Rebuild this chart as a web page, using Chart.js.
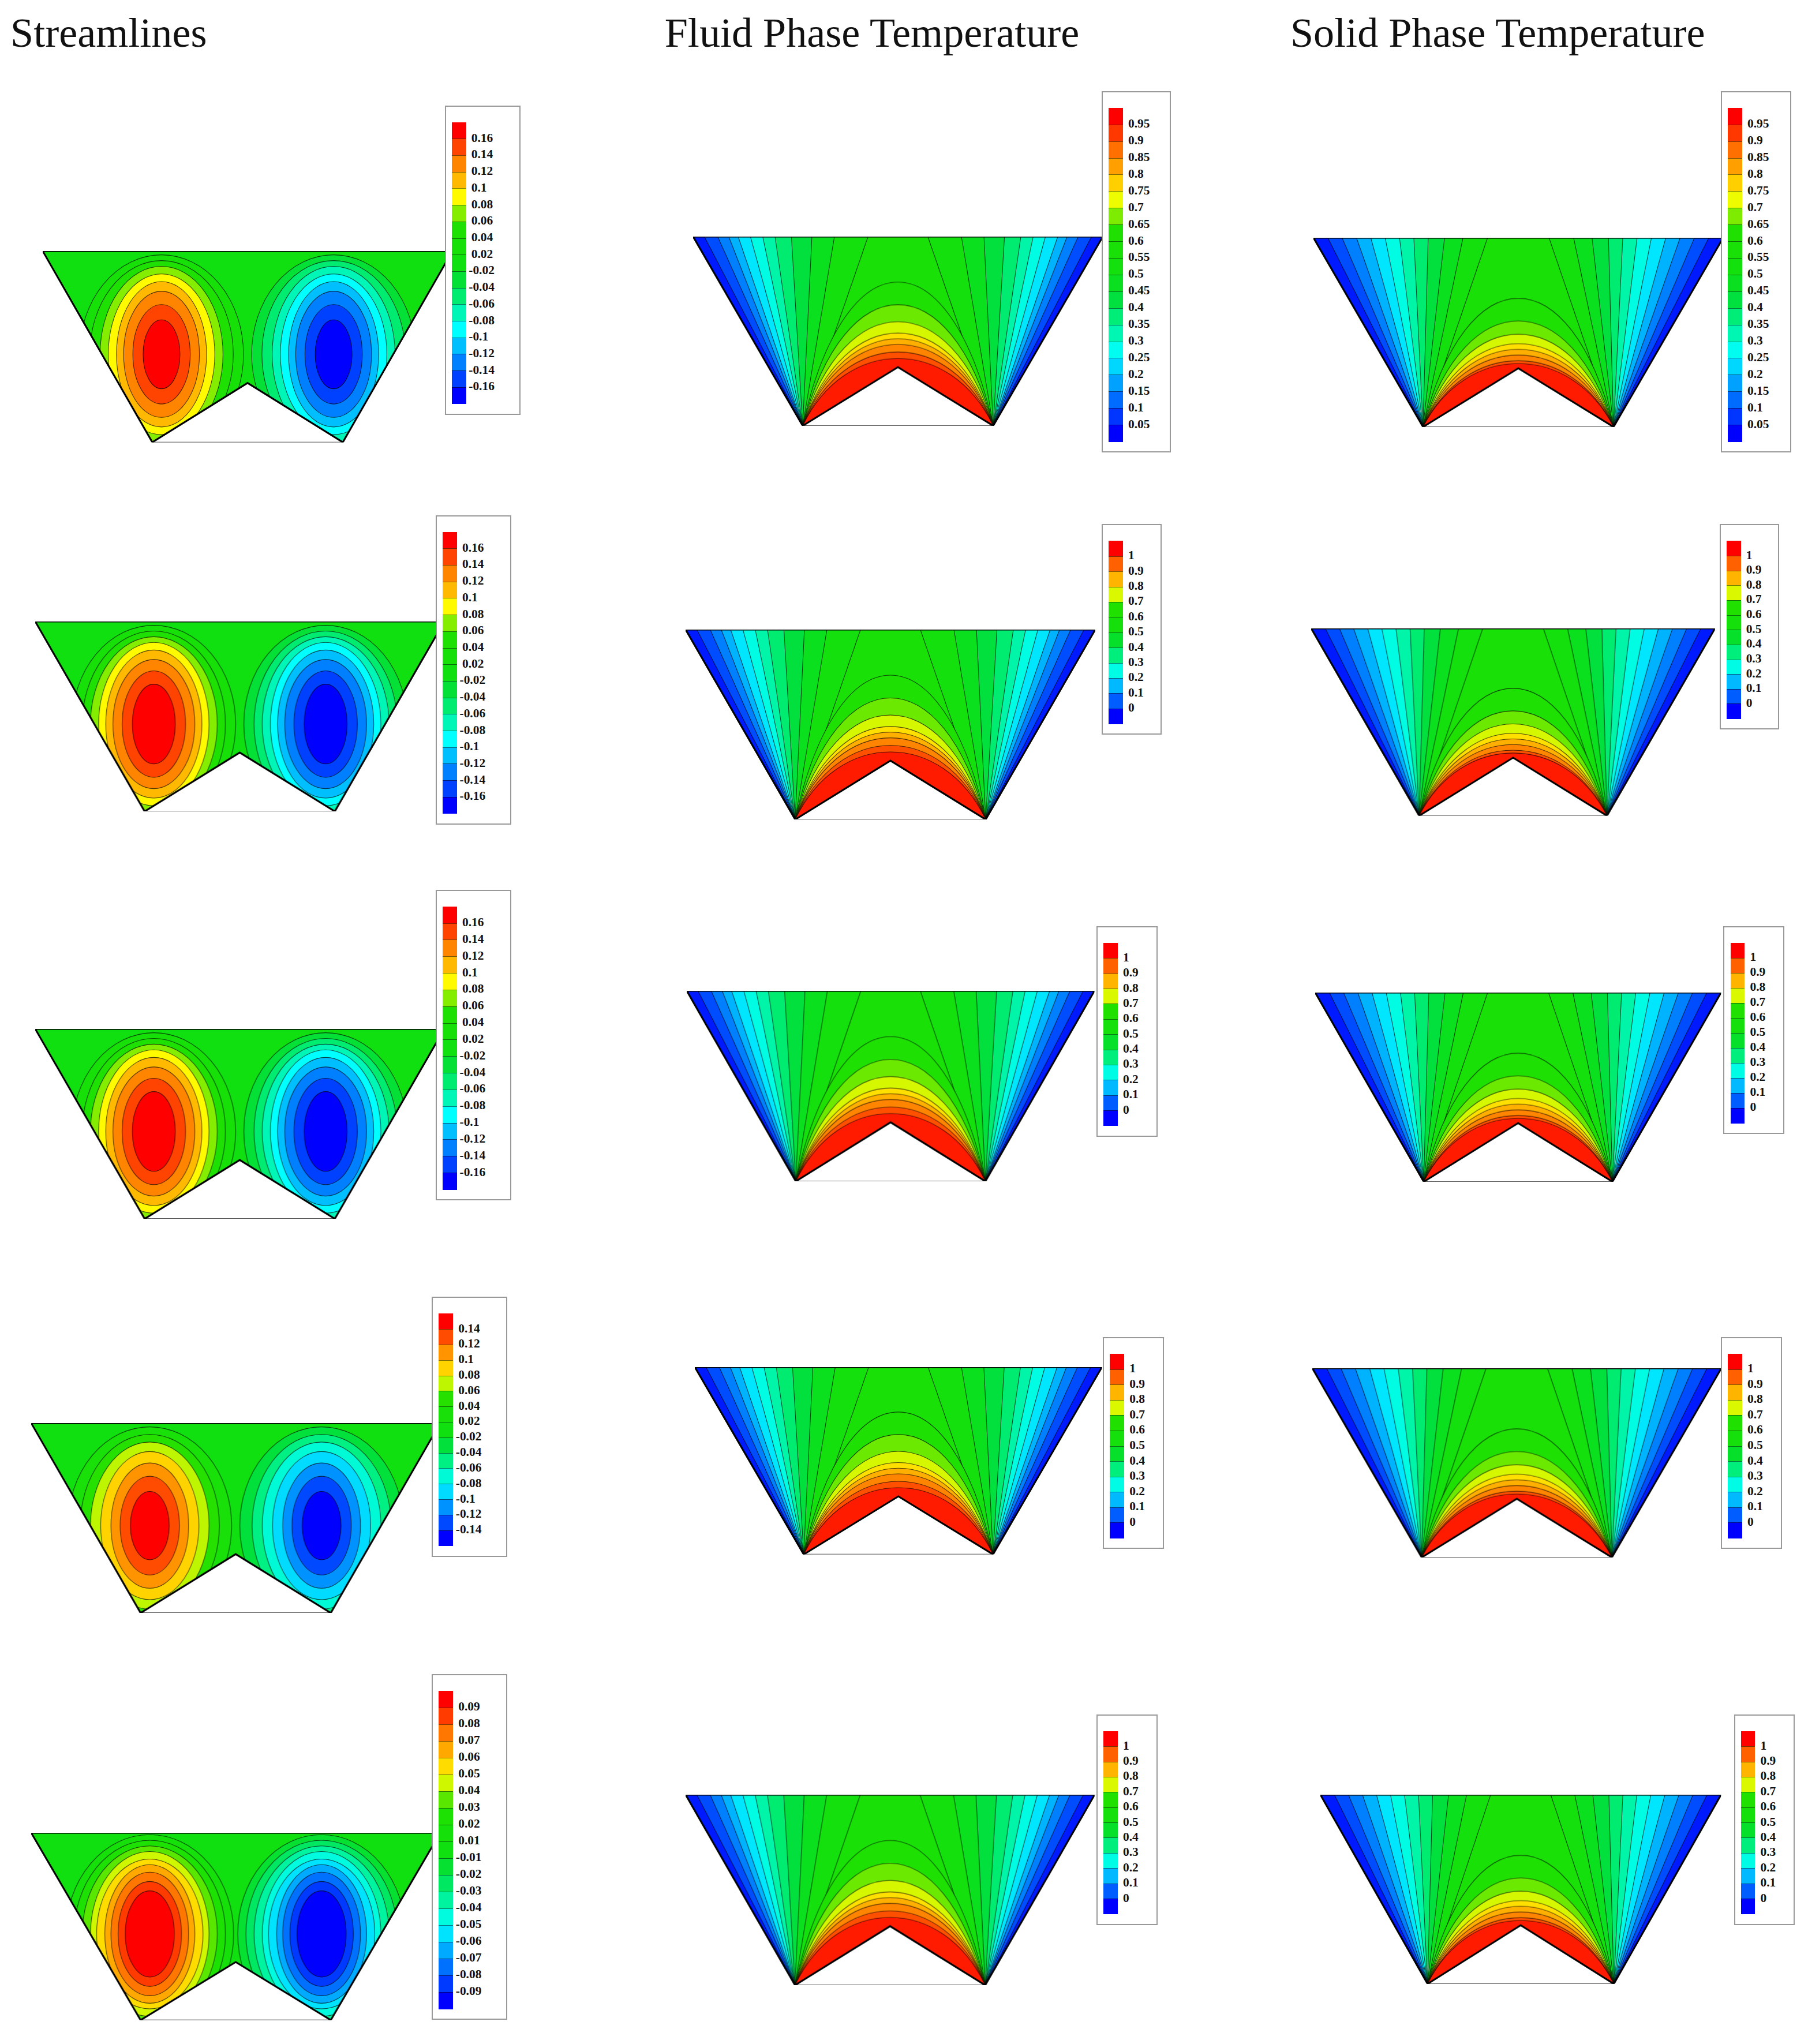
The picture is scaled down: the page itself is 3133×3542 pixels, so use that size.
<!DOCTYPE html>
<html>
<head>
<meta charset="utf-8">
<script src="https://cdn.jsdelivr.net/npm/chart.js@4.4.1/dist/chart.umd.min.js"></script>
<style>
  body { margin: 0; background: #fff; }
  #page { position: relative; width: 3133px; height: 3542px; overflow: hidden; }
  .title { position: absolute; font-family: "Liberation Serif", serif; color: #111; white-space: nowrap; }
  .panel { position: absolute; }
  .legend { position: absolute; border: 2px solid #999; background: #fff; box-sizing: border-box; }
  .sw { position: absolute; }
  .lab { position: absolute; font-family: "Liberation Serif", serif; font-weight: bold; color: #111; white-space: nowrap; }
</style>
</head>
<body>
<div id="page"></div>
<script>
const S = 3133 / 1390; // page drawn in 1390-wide units

// geometry of the cavity (data units)
const cavityTop = [[-1, 1], [1, 1]];
const cornerX = 0.465;
const apexY = 0.31;

// streamline contour levels and oval sizes, per row
const slLevels123 = [0.02, 0.04, 0.06, 0.08, 0.10, 0.12, 0.14, 0.16];
const slRx1 = [0.40, 0.35, 0.30, 0.26, 0.22, 0.185, 0.14, 0.09];
const slRy1 = [0.52, 0.49, 0.46, 0.42, 0.38, 0.33, 0.26, 0.18];
const slRx23 = [0.40, 0.35, 0.31, 0.27, 0.235, 0.20, 0.155, 0.105];
const slRy23 = [0.52, 0.49, 0.46, 0.43, 0.39, 0.34, 0.28, 0.21];
const slLevels4 = [0.02, 0.04, 0.06, 0.08, 0.10, 0.12, 0.14];
const slRx4 = [0.40, 0.34, 0.29, 0.24, 0.19, 0.145, 0.095];
const slRy4 = [0.52, 0.48, 0.44, 0.39, 0.33, 0.26, 0.18];
const slLevels5 = [0.01, 0.02, 0.03, 0.04, 0.05, 0.06, 0.07, 0.08, 0.09];
const slRx5 = [0.41, 0.37, 0.33, 0.29, 0.26, 0.22, 0.19, 0.155, 0.12];
const slRy5 = [0.53, 0.50, 0.47, 0.44, 0.40, 0.37, 0.33, 0.28, 0.23];
const vortexCenter = [0.42, 0.46];

// temperature isolines: fan lines from the bottom corners (where they meet the top wall)
const fanLevels = [0.05, 0.10, 0.15, 0.20, 0.25, 0.30, 0.35, 0.40, 0.45, 0.50, 0.55];
const fluidFanTopX = [-0.945, -0.88, -0.826, -0.78, -0.72, -0.66, -0.60, -0.52, -0.42, -0.31, -0.146];
const solidFanTopX = [-0.93, -0.86, -0.79, -0.72, -0.65, -0.58, -0.51, -0.44, -0.36, -0.27, -0.15];
// hot isolines arching over the heated bump: peak heights
const archLevels = [0.60, 0.65, 0.70, 0.75, 0.80, 0.85, 0.90, 0.95];
const fluidArchPeak = [0.76, 0.64, 0.55, 0.49, 0.46, 0.43, 0.39, 0.356];
const solidArchPeak = [0.68, 0.56, 0.49, 0.44, 0.41, 0.38, 0.35, 0.335];

// legend tick labels
const slTicks16 = ['0.16','0.14','0.12','0.1','0.08','0.06','0.04','0.02','-0.02','-0.04','-0.06','-0.08','-0.1','-0.12','-0.14','-0.16'];
const slTicks14 = ['0.14','0.12','0.1','0.08','0.06','0.04','0.02','-0.02','-0.04','-0.06','-0.08','-0.1','-0.12','-0.14'];
const slTicks09 = ['0.09','0.08','0.07','0.06','0.05','0.04','0.03','0.02','0.01','-0.01','-0.02','-0.03','-0.04','-0.05','-0.06','-0.07','-0.08','-0.09'];
const tTicks05 = ['0.95','0.9','0.85','0.8','0.75','0.7','0.65','0.6','0.55','0.5','0.45','0.4','0.35','0.3','0.25','0.2','0.15','0.1','0.05'];
const tTicks1 = ['1','0.9','0.8','0.7','0.6','0.5','0.4','0.3','0.2','0.1','0'];

// colour map (rainbow like the original)
const stops = [[0,[0,0,255]],[0.25,[0,255,255]],[0.36,[0,240,128]],[0.42,[0,224,64]],[0.5,[16,224,16]],
  [0.64,[32,224,0]],[0.70,[160,240,0]],[0.745,[255,255,0]],[0.80,[255,196,0]],[0.88,[255,128,0]],[0.94,[255,64,0]],[1,[255,0,0]]];
function cmap(t) {
  t = Math.max(0, Math.min(1, t));
  for (let i = 1; i < stops.length; i++) {
    if (t <= stops[i][0]) {
      const a = stops[i-1], b = stops[i], f = (t - a[0]) / (b[0] - a[0]);
      const c = a[1].map((v, k) => Math.round(v + (b[1][k] - v) * f));
      return `rgb(${c[0]},${c[1]},${c[2]})`;
    }
  }
  return 'rgb(255,0,0)';
}

const page = document.getElementById('page');

function addTitle(text, x, y) {
  const d = document.createElement('div');
  d.className = 'title';
  d.textContent = text;
  d.style.left = x * S + 'px';
  d.style.top = y * S + 'px';
  d.style.fontSize = 32 * S + 'px';
  page.appendChild(d);
}
addTitle('Streamlines', 8, 7);
addTitle('Fluid Phase Temperature', 511, 7);
addTitle('Solid Phase Temperature', 992, 7);

function addLegend(x0, y0, x1, y1, ticks) {
  const box = document.createElement('div');
  box.className = 'legend';
  box.style.left = x0 * S + 'px'; box.style.top = y0 * S + 'px';
  box.style.width = (x1 - x0) * S + 'px'; box.style.height = (y1 - y0) * S + 'px';
  const nb = ticks.length + 1;
  const top = 12, bot = (y1 - y0) - 9.5;
  const bh = (bot - top) / nb;
  for (let j = 0; j < nb; j++) {
    const s = document.createElement('div');
    s.className = 'sw';
    s.style.left = 4.5 * S + 'px';
    s.style.width = 11 * S + 'px';
    s.style.top = (top + j * bh) * S + 'px';
    s.style.height = (bh + 0.3) * S + 'px';
    s.style.background = cmap((nb - 1 - j) / (nb - 1));
    if (j > 0) s.style.borderTop = '1px solid rgba(0,0,0,0.5)';
    s.style.boxSizing = 'border-box';
    box.appendChild(s);
  }
  ticks.forEach((t, i) => {
    const l = document.createElement('div');
    l.className = 'lab';
    l.textContent = t;
    l.style.fontSize = 9.5 * S + 'px';
    l.style.left = ((t.startsWith('-') ? 17.5 : 19.5)) * S + 'px';
    l.style.top = (top + (i + 1) * bh - 6) * S + 'px';
    box.appendChild(l);
  });
  page.appendChild(box);
}

function domainPath(ctx, X, Y) {
  ctx.beginPath();
  ctx.moveTo(X(-1), Y(1)); ctx.lineTo(X(1), Y(1));
  ctx.lineTo(X(cornerX), Y(0)); ctx.lineTo(X(0), Y(apexY));
  ctx.lineTo(X(-cornerX), Y(0)); ctx.closePath();
}

function streamPlugin(levels, rx, ry, ticks) {
  const asc = ticks.map(Number).sort((a, b) => a - b);
  const nb = asc.length + 1;
  const band = j => cmap(j / (nb - 1));
  return {
    id: 'streamField',
    beforeDatasetsDraw(chart) {
      const ctx = chart.ctx, X = v => chart.scales.x.getPixelForValue(v), Y = v => chart.scales.y.getPixelForValue(v);
      ctx.save();
      domainPath(ctx, X, Y); ctx.clip();
      ctx.fillStyle = band(asc.indexOf(levels[0]));
      ctx.fillRect(chart.chartArea.left - 5, chart.chartArea.top - 5, chart.chartArea.width + 10, chart.chartArea.height + 10);
      ctx.lineWidth = 1.1; ctx.strokeStyle = 'rgba(0,0,0,0.7)';
      [-1, 1].forEach(side => {
        levels.forEach((L, i) => {
          const idx = side < 0 ? asc.indexOf(L) + 1 : asc.indexOf(-L);
          const cx = X(side * vortexCenter[0]), cy = Y(vortexCenter[1]);
          const rX = Math.abs(X(rx[i]) - X(0)), rY = Math.abs(Y(ry[i]) - Y(0));
          ctx.beginPath();
          ctx.ellipse(cx, cy, rX, rY, 0, 0, Math.PI * 2);
          ctx.fillStyle = band(idx);
          ctx.fill(); ctx.stroke();
        });
      });
      ctx.restore();
    }
  };
}

function tempPlugin(topX, peaks) {
  return {
    id: 'tempField',
    beforeDatasetsDraw(chart) {
      const ctx = chart.ctx, X = v => chart.scales.x.getPixelForValue(v), Y = v => chart.scales.y.getPixelForValue(v);
      ctx.save();
      domainPath(ctx, X, Y); ctx.clip();
      ctx.fillStyle = cmap(0.575);
      ctx.fillRect(chart.chartArea.left - 5, chart.chartArea.top - 5, chart.chartArea.width + 10, chart.chartArea.height + 10);
      ctx.lineWidth = 1.1; ctx.strokeStyle = 'rgba(0,0,0,0.7)';
      [-1, 1].forEach(side => {
        const c = side * cornerX;
        // fill bands from the centre outwards to the cold wall
        for (let k = topX.length - 1; k >= 0; k--) {
          ctx.beginPath();
          ctx.moveTo(X(c), Y(0));
          ctx.lineTo(X(side * 1.1), Y(1.1));
          ctx.lineTo(X(side * -topX[k]), Y(1.1));
          ctx.lineTo(X(side * -topX[k]), Y(1));
          ctx.closePath();
          ctx.fillStyle = cmap(fanLevels[k] - 0.025);
          ctx.fill();
        }
        topX.forEach(tx => {
          ctx.beginPath(); ctx.moveTo(X(c), Y(0)); ctx.lineTo(X(side * -tx), Y(1)); ctx.stroke();
        });
      });
      archLevels.forEach((L, i) => {
        const k = peaks[i] / 0.75;
        ctx.beginPath();
        ctx.moveTo(X(-cornerX), Y(0));
        ctx.bezierCurveTo(X(-cornerX * 0.55), Y(k), X(cornerX * 0.55), Y(k), X(cornerX), Y(0));
        ctx.closePath();
        ctx.fillStyle = cmap(L + 0.025);
        ctx.fill(); ctx.stroke();
      });
      ctx.restore();
    }
  };
}

function addPanel(x0, y0, x1, y1, plugin) {
  const pad = 4;
  const div = document.createElement('div');
  div.className = 'panel';
  div.style.left = (x0 - pad) * S + 'px'; div.style.top = (y0 - pad) * S + 'px';
  div.style.width = (x1 - x0 + 2 * pad) * S + 'px'; div.style.height = (y1 - y0 + 2 * pad) * S + 'px';
  const cv = document.createElement('canvas');
  div.appendChild(cv);
  page.appendChild(div);
  const outline = [...cavityTop, [cornerX, 0], [0, apexY], [-cornerX, 0], cavityTop[0]].map(p => ({ x: p[0], y: p[1] }));
  new Chart(cv, {
    type: 'scatter',
    data: {
      datasets: [
        { data: outline, showLine: true, borderColor: '#000', borderWidth: 2.2 * S / 1.6, pointRadius: 0, fill: false },
        { data: [{ x: -cornerX, y: 0 }, { x: cornerX, y: 0 }], showLine: true, borderColor: '#222', borderWidth: 1.5, pointRadius: 0 }
      ]
    },
    options: {
      responsive: true, maintainAspectRatio: false, animation: false,
      layout: { padding: pad * S },
      scales: { x: { type: 'linear', min: -1, max: 1, display: false }, y: { min: 0, max: 1, display: false } },
      plugins: { legend: { display: false }, tooltip: { enabled: false } }
    },
    plugins: [plugin]
  });
}

// rows: streamlines, fluid, solid  (trapezoid box and legend box in page units)
const rows = [
  { sl: [33,193,348,340], slLeg: [342,81,400,319], fl: [533,182,848,327], flLeg: [847,70,900,348], so: [1010,183,1325,328], soLeg: [1323,70,1377,348],
    lev: slLevels123, rx: slRx1, ry: slRy1, slT: slTicks16, tT: tTicks05 },
  { sl: [27,478,341,624], slLeg: [335,396,393,634], fl: [527,484,842,630], flLeg: [847,403,893,565], so: [1008,483,1318,627], soLeg: [1322,403,1368,561],
    lev: slLevels123, rx: slRx23, ry: slRy23, slT: slTicks16, tT: tTicks1 },
  { sl: [27,791,341,937], slLeg: [335,684,393,923], fl: [528,762,841,908], flLeg: [843,712,890,874], so: [1011,763,1323,908], soLeg: [1325,712,1372,872],
    lev: slLevels123, rx: slRx23, ry: slRy23, slT: slTicks16, tT: tTicks1 },
  { sl: [24,1094,338,1240], slLeg: [332,997,390,1197], fl: [534,1051,847,1195], flLeg: [848,1028,895,1191], so: [1009,1052,1323,1197], soLeg: [1323,1028,1370,1191],
    lev: slLevels4, rx: slRx4, ry: slRy4, slT: slTicks14, tT: tTicks1 },
  { sl: [24,1409,338,1553], slLeg: [332,1287,390,1553], fl: [527,1380,841,1526], flLeg: [843,1318,890,1480], so: [1015,1380,1323,1525], soLeg: [1333,1318,1380,1480],
    lev: slLevels5, rx: slRx5, ry: slRy5, slT: slTicks09, tT: tTicks1 }
];

rows.forEach(r => {
  addPanel(...r.sl, streamPlugin(r.lev, r.rx, r.ry, r.slT));
  addPanel(...r.fl, tempPlugin(fluidFanTopX, fluidArchPeak));
  addPanel(...r.so, tempPlugin(solidFanTopX, solidArchPeak));
  addLegend(...r.slLeg, r.slT);
  addLegend(...r.flLeg, r.tT);
  addLegend(...r.soLeg, r.tT);
});
</script>
</body>
</html>
